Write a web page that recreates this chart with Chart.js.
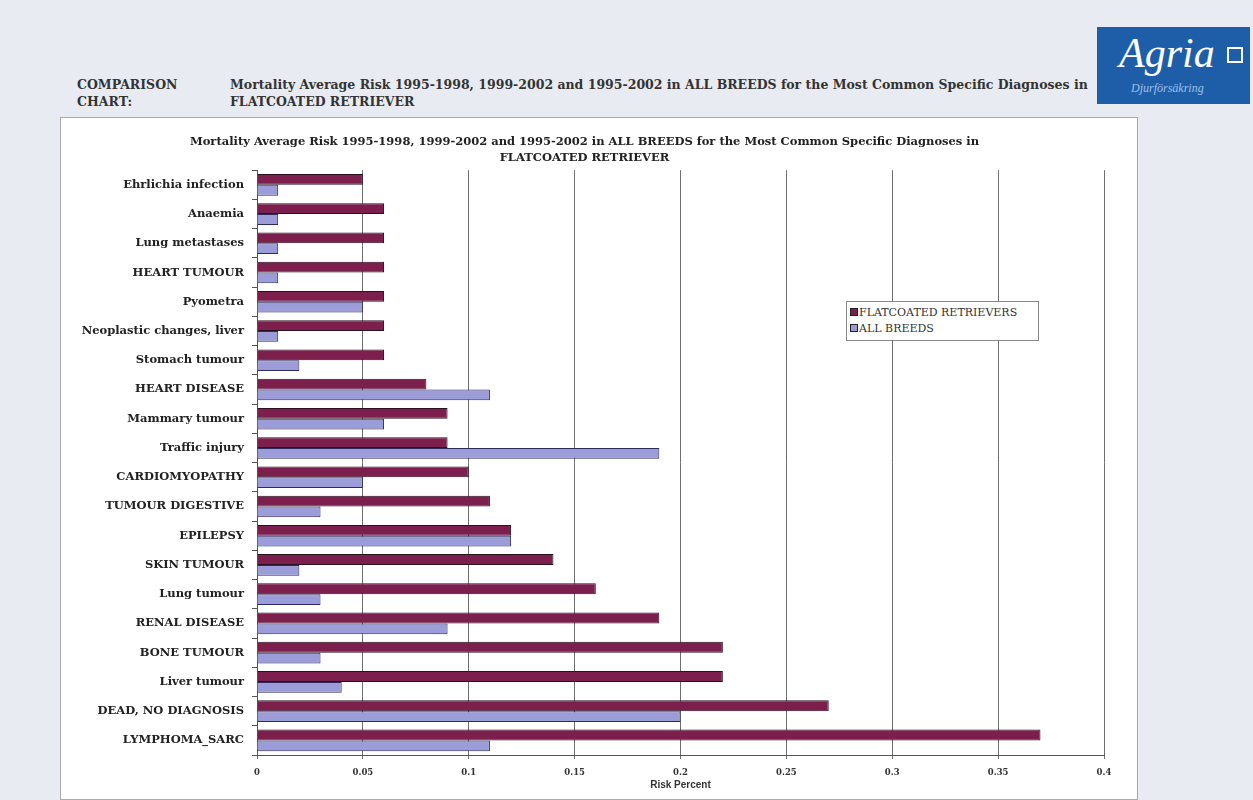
<!DOCTYPE html>
<html lang="en">
<head>
    <meta charset="UTF-8">
    <title>Mortality Average Risk - Flatcoated Retriever</title>
    <script src="https://cdn.jsdelivr.net/npm/chart.js"></script>
    <style>
        body {
            margin: 0;
            width: 1253px;
            height: 800px;
            overflow: hidden;
            background: #e8ecf2;
            font-family: "DejaVu Serif", serif;
            position: relative;
        }
        .head {
            position: absolute;
            font-weight: bold;
            font-size: 12.5px;
            color: #333;
            line-height: 17px;
        }
        #logo {
            position: absolute;
            left: 1097px;
            top: 27px;
            width: 153px;
            height: 77px;
            background: #1e5ea9;
            color: #fff;
        }
        #logo .big {
            position: absolute;
            left: 22px;
            top: 2px;
            font-family: "Liberation Serif", serif;
            font-style: italic;
            font-size: 42px;
        }
        #logo .small {
            position: absolute;
            left: 34px;
            top: 54px;
            font-family: "Liberation Serif", serif;
            font-style: italic;
            font-size: 12px;
            color: #9fc0ea;
        }
        #logo .box {
            position: absolute;
            left: 130px;
            top: 20px;
            width: 12px;
            height: 12px;
            border: 2px solid #fff;
        }
        .container {
            position: absolute;
            left: 60px;
            top: 117px;
            width: 1078px;
            height: 683px;
            background: #fff;
            border: 1px solid #aaa;
            box-sizing: border-box;
        }
        #legend {
            position: absolute;
            left: 785px;
            top: 183px;
            width: 193px;
            height: 40px;
            border: 1px solid #888;
            background: #fff;
            font-size: 11px;
            color: #333;
            box-sizing: border-box;
            padding: 3px 0 0 3px;
            line-height: 16px;
            white-space: nowrap;
        }
        #legend span.sw {
            display: inline-block;
            width: 6px;
            height: 6px;
            border: 1px solid #222;
            margin-right: 1px;
        }
    </style>
</head>
<body>
    <div class="head" style="left:77px;top:76px;">COMPARISON<br>CHART:</div>
    <div class="head" style="left:230px;top:76px;">Mortality Average Risk 1995-1998, 1999-2002 and 1995-2002 in ALL BREEDS for the Most Common Specific Diagnoses in<br>FLATCOATED RETRIEVER</div>
    <div id="logo"><span class="big">Agria</span><span class="box"></span><span class="small">Djurförsäkring</span></div>
    <div class="container">
        <canvas id="riskChart" width="1076" height="681"></canvas>
        <div id="legend"></div>
    </div>
    <script>
        const diagnoses = [
            'Ehrlichia infection', 'Anaemia', 'Lung metastases', 'HEART TUMOUR', 'Pyometra',
            'Neoplastic changes, liver', 'Stomach tumour', 'HEART DISEASE', 'Mammary tumour', 'Traffic injury',
            'CARDIOMYOPATHY', 'TUMOUR DIGESTIVE', 'EPILEPSY', 'SKIN TUMOUR', 'Lung tumour',
            'RENAL DISEASE', 'BONE TUMOUR', 'Liver tumour', 'DEAD, NO DIAGNOSIS', 'LYMPHOMA_SARC'
        ];
        const flatcoated = [0.05, 0.06, 0.06, 0.06, 0.06, 0.06, 0.06, 0.08, 0.09, 0.09,
                            0.10, 0.11, 0.12, 0.14, 0.16, 0.19, 0.22, 0.22, 0.27, 0.37];
        const allBreeds  = [0.01, 0.01, 0.01, 0.01, 0.05, 0.01, 0.02, 0.11, 0.06, 0.19,
                            0.05, 0.03, 0.12, 0.02, 0.03, 0.09, 0.03, 0.04, 0.20, 0.11];
        const seriesNames = ['FLATCOATED RETRIEVERS', 'ALL BREEDS'];
        const xTicks = ['0', '0.05', '0.1', '0.15', '0.2', '0.25', '0.3', '0.35', '0.4'];

        const serif = '"DejaVu Serif", serif';

        const ctx = document.getElementById('riskChart').getContext('2d');
        const riskChart = new Chart(ctx, {
            type: 'bar',
            data: {
                labels: diagnoses,
                datasets: [{
                    label: seriesNames[0],
                    data: flatcoated,
                    backgroundColor: '#7c1f4c',
                    borderColor: '#2a1020',
                    borderWidth: 1,
                    categoryPercentage: 0.74,
                    barPercentage: 1.0
                }, {
                    label: seriesNames[1],
                    data: allBreeds,
                    backgroundColor: '#9c9cd8',
                    borderColor: '#2b2b5e',
                    borderWidth: 1,
                    categoryPercentage: 0.74,
                    barPercentage: 1.0
                }]
            },
            options: {
                indexAxis: 'y',
                responsive: false,
                animation: false,
                layout: { padding: { left: 4, right: 33, top: 10, bottom: 8 } },
                plugins: {
                    legend: { display: false },
                    tooltip: { enabled: false },
                    title: {
                        display: true,
                        text: ['Mortality Average Risk 1995-1998, 1999-2002 and 1995-2002 in ALL BREEDS for the Most Common Specific Diagnoses in',
                               'FLATCOATED RETRIEVER'],
                        color: '#222',
                        font: { family: serif, size: 11.5, weight: 'bold', lineHeight: 1.4 },
                        padding: { top: 6, bottom: 4 }
                    }
                },
                scales: {
                    x: {
                        min: 0,
                        max: 0.4,
                        afterFit: (scale) => { scale.height = 36; },
                        ticks: {
                            stepSize: 0.05,
                            color: '#333',
                            font: { family: serif, size: 8.5, weight: 'bold' },
                            padding: 9,
                            callback: (v, i) => xTicks[i]
                        },
                        grid: { color: '#6e6e6e', lineWidth: 1, tickLength: 4 },
                        border: { color: '#555', width: 1 },
                        title: {
                            display: true,
                            text: 'Risk Percent',
                            color: '#333',
                            font: { family: '"Liberation Sans", sans-serif', size: 10, weight: 'bold' },
                            padding: { top: 0, bottom: 0 }
                        }
                    },
                    y: {
                        afterFit: (scale) => { scale.width = 192; },
                        ticks: {
                            color: '#222',
                            font: { family: serif, size: 11.5, weight: 'bold' },
                            padding: 8
                        },
                        grid: { drawOnChartArea: false, color: '#555', tickLength: 5, offset: true },
                        border: { color: '#555', width: 1 }
                    }
                }
            }
        });

        // html legend from dataset names
        const legendColors = ['#7c1f4c', '#9c9cd8'];
        document.getElementById('legend').innerHTML = seriesNames.map((n, i) =>
            '<div><span class="sw" style="background:' + legendColors[i] + '"></span>' + n + '</div>'
        ).join('');
    </script>
</body>
</html>
